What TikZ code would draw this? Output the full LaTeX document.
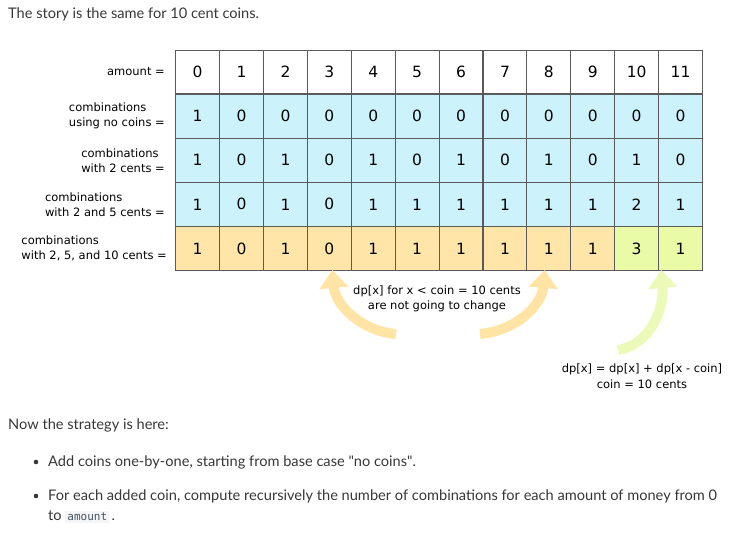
\documentclass[tikz,border=0pt]{standalone}
\usepackage{fontspec}
\setmainfont{Lato}
\newfontfamily\sketchfont{DejaVu Sans}
\setmonofont{DejaVu Sans Mono}
\usetikzlibrary{arrows.meta}

\definecolor{cellline}{RGB}{90,90,90}
\definecolor{cellblue}{RGB}{204,242,251}
\definecolor{cellyellow}{RGB}{255,230,168}
\definecolor{cellgreen}{RGB}{234,251,168}
\definecolor{arrowyellow}{RGB}{255,228,165}
\definecolor{arrowgreen}{RGB}{236,250,185}
\definecolor{bodytext}{RGB}{55,55,55}
\definecolor{codebg}{RGB}{244,245,247}
\definecolor{codetext}{RGB}{70,80,95}

\tikzset{
  cell/.style={draw=cellline, line width=1.1pt, minimum size=43.9pt, inner sep=0pt,
    font=\sketchfont\fontsize{15.5}{15.5}\selectfont},
  rowlabel/.style={anchor=east, align=left, inner sep=0pt,
    font=\sketchfont\fontsize{11.5}{15.5}\selectfont},
  note/.style={align=center, inner sep=0pt, font=\sketchfont\fontsize{11.5}{15.5}\selectfont},
  body/.style={anchor=west, inner sep=0pt, text=bodytext, font=\fontsize{14.6}{20}\selectfont},
  fatarrow/.style={draw=#1, line width=10pt, -{Triangle[width=28pt,length=18pt]}}
}

\begin{document}
\begin{tikzpicture}[x=1pt, y=-1pt]
\useasboundingbox (0,0) rectangle (750,544);

\node[body] (title) at (8,14) {The story is the same for 10 cent coins.};

% table
\foreach \vals/\fillc [count=\r from 0] in {
    {0,1,2,3,4,5,6,7,8,9,10,11}/white,
    {1,0,0,0,0,0,0,0,0,0,0,0}/cellblue,
    {1,0,1,0,1,0,1,0,1,0,1,0}/cellblue,
    {1,0,1,0,1,1,1,1,1,1,2,1}/cellblue,
    {1,0,1,0,1,1,1,1,1,1,3,1}/cellyellow} {
  \foreach \v [count=\c from 0] in \vals {
    \def\cf{\fillc}
    \ifnum\r=4 \ifnum\c>9 \def\cf{cellgreen}\fi\fi
    \node[cell, fill=\cf] (c-\r-\c) at ({175.7+43.9*(\c+0.5)}, {50+44.1*(\r+0.5)}) {\v};
  }
}

\node[rowlabel] (lab-0) at (165,72) {amount =};
\node[rowlabel] (lab-1) at (165,116) {combinations\\using no coins =};
\node[rowlabel] (lab-2) at (165,160.5) {combinations\\with 2 cents =};
\node[rowlabel] (lab-3) at (165,204.5) {combinations\\with 2 and 5 cents =};
\node[rowlabel] (lab-4) at (167,248.5) {combinations\\with 2, 5, and 10 cents =};

% arrows
\coordinate (tail-a) at (396,334);
\coordinate (tail-b) at (480,334);
\coordinate (tail-c) at (618,350);
\draw[fatarrow=arrowyellow] (tail-a) to[out=175,in=-85] ([xshift=3pt,yshift=1pt]c-4-3.south);
\draw[fatarrow=arrowyellow] (tail-b) to[out=5,in=-95] ([xshift=-4pt,yshift=1pt]c-4-8.south);
\draw[fatarrow=arrowgreen] (tail-c) to[out=10,in=-85] ([xshift=2pt,yshift=1pt]c-4-10.south east);

\node[note] (note-keep) at (437,299) {dp[x] for x < coin = 10 cents\\are not going to change};
\node[note] (note-add) at (642,376) {dp[x] = dp[x] + dp[x - coin]\\coin = 10 cents};

% text below
\node[body] (strategy) at (8,425) {Now the strategy is here:};
\fill[bodytext] (36,462) circle (2.3pt);
\node[body] (item-a) at (48,462) {Add coins one-by-one, starting from base case \textquotedbl no coins\textquotedbl.};
\fill[bodytext] (36,496) circle (2.3pt);
\node[body] (item-b) at (48,496) {For each added coin, compute recursively the number of combinations for each amount of money from 0};
\node[body] (item-c) at (48,517) {to \fboxsep=2pt\colorbox{codebg}{\textcolor{codetext}{\ttfamily\fontsize{11}{11}\selectfont amount}}\,.};
\end{tikzpicture}
\end{document}
